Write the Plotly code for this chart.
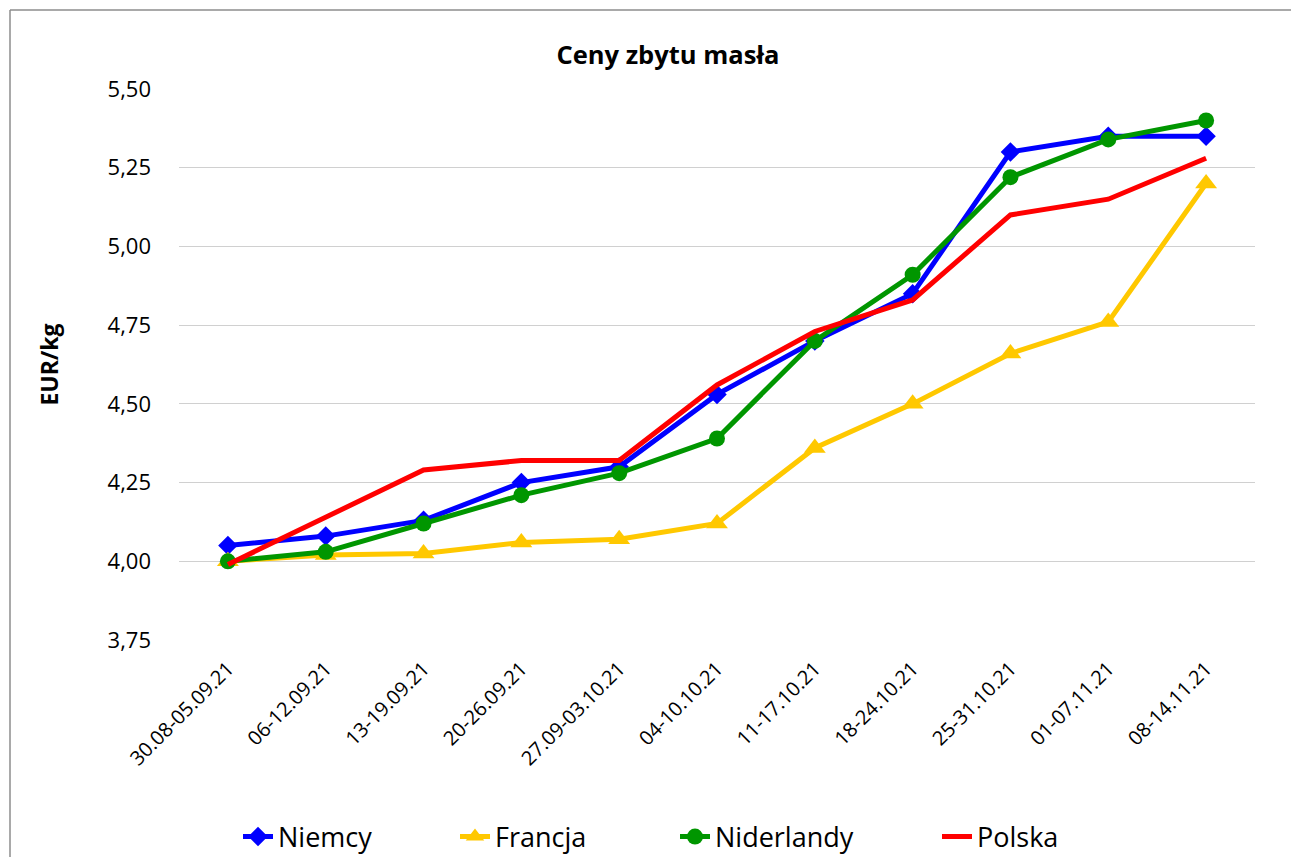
import plotly.graph_objects as go

categories = ["30.08-05.09.21", "06-12.09.21", "13-19.09.21", "20-26.09.21", "27.09-03.10.21",
              "04-10.10.21", "11-17.10.21", "18-24.10.21", "25-31.10.21", "01-07.11.21", "08-14.11.21"]
niemcy = [4.05, 4.08, 4.13, 4.25, 4.30, 4.53, 4.70, 4.85, 5.30, 5.35, 5.35]
francja = [4.00, 4.02, 4.025, 4.06, 4.07, 4.12, 4.36, 4.50, 4.66, 4.76, 5.20]
niderlandy = [4.00, 4.03, 4.12, 4.21, 4.28, 4.39, 4.70, 4.91, 5.22, 5.34, 5.40]
polska = [3.99, 4.14, 4.29, 4.32, 4.32, 4.56, 4.73, 4.83, 5.10, 5.15, 5.28]
y_ticks = [3.75, 4.00, 4.25, 4.50, 4.75, 5.00, 5.25, 5.50]

FONT = "Open Sans"
W, H = 1291, 857
L, R, T, B = 179, 36, 89, 217

fig = go.Figure()
fig.add_trace(go.Scatter(x=categories, y=niemcy, name="Niemcy", mode="lines+markers",
                         line=dict(color="#0000FF", width=5), legend="legend",
                         marker=dict(symbol="diamond", size=15, color="#0000FF")))
fig.add_trace(go.Scatter(x=categories, y=francja, name="Francja", mode="lines+markers",
                         line=dict(color="#FFC800", width=5), legend="legend2",
                         marker=dict(symbol="triangle-up", size=19, color="#FFC800")))
fig.add_trace(go.Scatter(x=categories, y=niderlandy, name="Niderlandy", mode="lines+markers",
                         line=dict(color="#009600", width=5), legend="legend3",
                         marker=dict(symbol="circle", size=16, color="#009600")))
fig.add_trace(go.Scatter(x=categories, y=polska, name="Polska", mode="lines",
                         line=dict(color="#FF0000", width=5), legend="legend4"))

pw = W - L - R
ph = H - T - B
bx0 = (10 - L) / pw
by1 = (H - B - 10) / ph
leg_y = -(837 - (H - B)) / ph


def leg(px):
    return dict(orientation="h", x=(px - L) / pw, xanchor="left", y=leg_y, yanchor="middle",
                font=dict(size=27, family=FONT, color="black"), itemwidth=30,
                bgcolor="rgba(0,0,0,0)", borderwidth=0)


fig.update_layout(
    width=W, height=H,
    margin=dict(l=L, r=R, t=T, b=B, autoexpand=False),
    paper_bgcolor="white", plot_bgcolor="white",
    font=dict(family=FONT, color="black"),
    title=dict(text="<b>Ceny zbytu masła</b>", x=668 / W, xref="container", xanchor="center",
               y=1 - 55 / H, yref="container", yanchor="middle",
               font=dict(size=25.5, family=FONT, color="black")),
    separators=",.",
    xaxis=dict(type="category", categoryorder="array", categoryarray=categories,
               range=[-0.5, len(categories) - 0.5], showgrid=False, showline=False,
               tickangle=-45, tickfont=dict(size=20, family=FONT), ticks="", ticklabelstandoff=12),
    yaxis=dict(range=[3.75, 5.5], tickvals=y_ticks, tickformat=".2f",
               showgrid=True, gridcolor="#D0D0D0", gridwidth=1, zeroline=False, showline=False,
               tickfont=dict(size=22, family=FONT), ticks="", ticklabelstandoff=27,
               title=dict(text="<b>EUR/kg</b>", font=dict(size=23, family=FONT), standoff=42)),
    legend=leg(238),
    legend2=leg(455),
    legend3=leg(675),
    legend4=leg(937),
    showlegend=True,
    shapes=[
        dict(type="line", xref="paper", yref="paper", x0=bx0, x1=1.2, y0=by1, y1=by1,
             line=dict(color="#8C8C8C", width=1.5)),
        dict(type="line", xref="paper", yref="paper", x0=bx0, x1=bx0, y0=by1, y1=-0.6,
             line=dict(color="#8C8C8C", width=1.5)),
    ],
)

fig.write_html("out.html", config={"displayModeBar": False},
               post_script="document.body.style.margin='0';")
